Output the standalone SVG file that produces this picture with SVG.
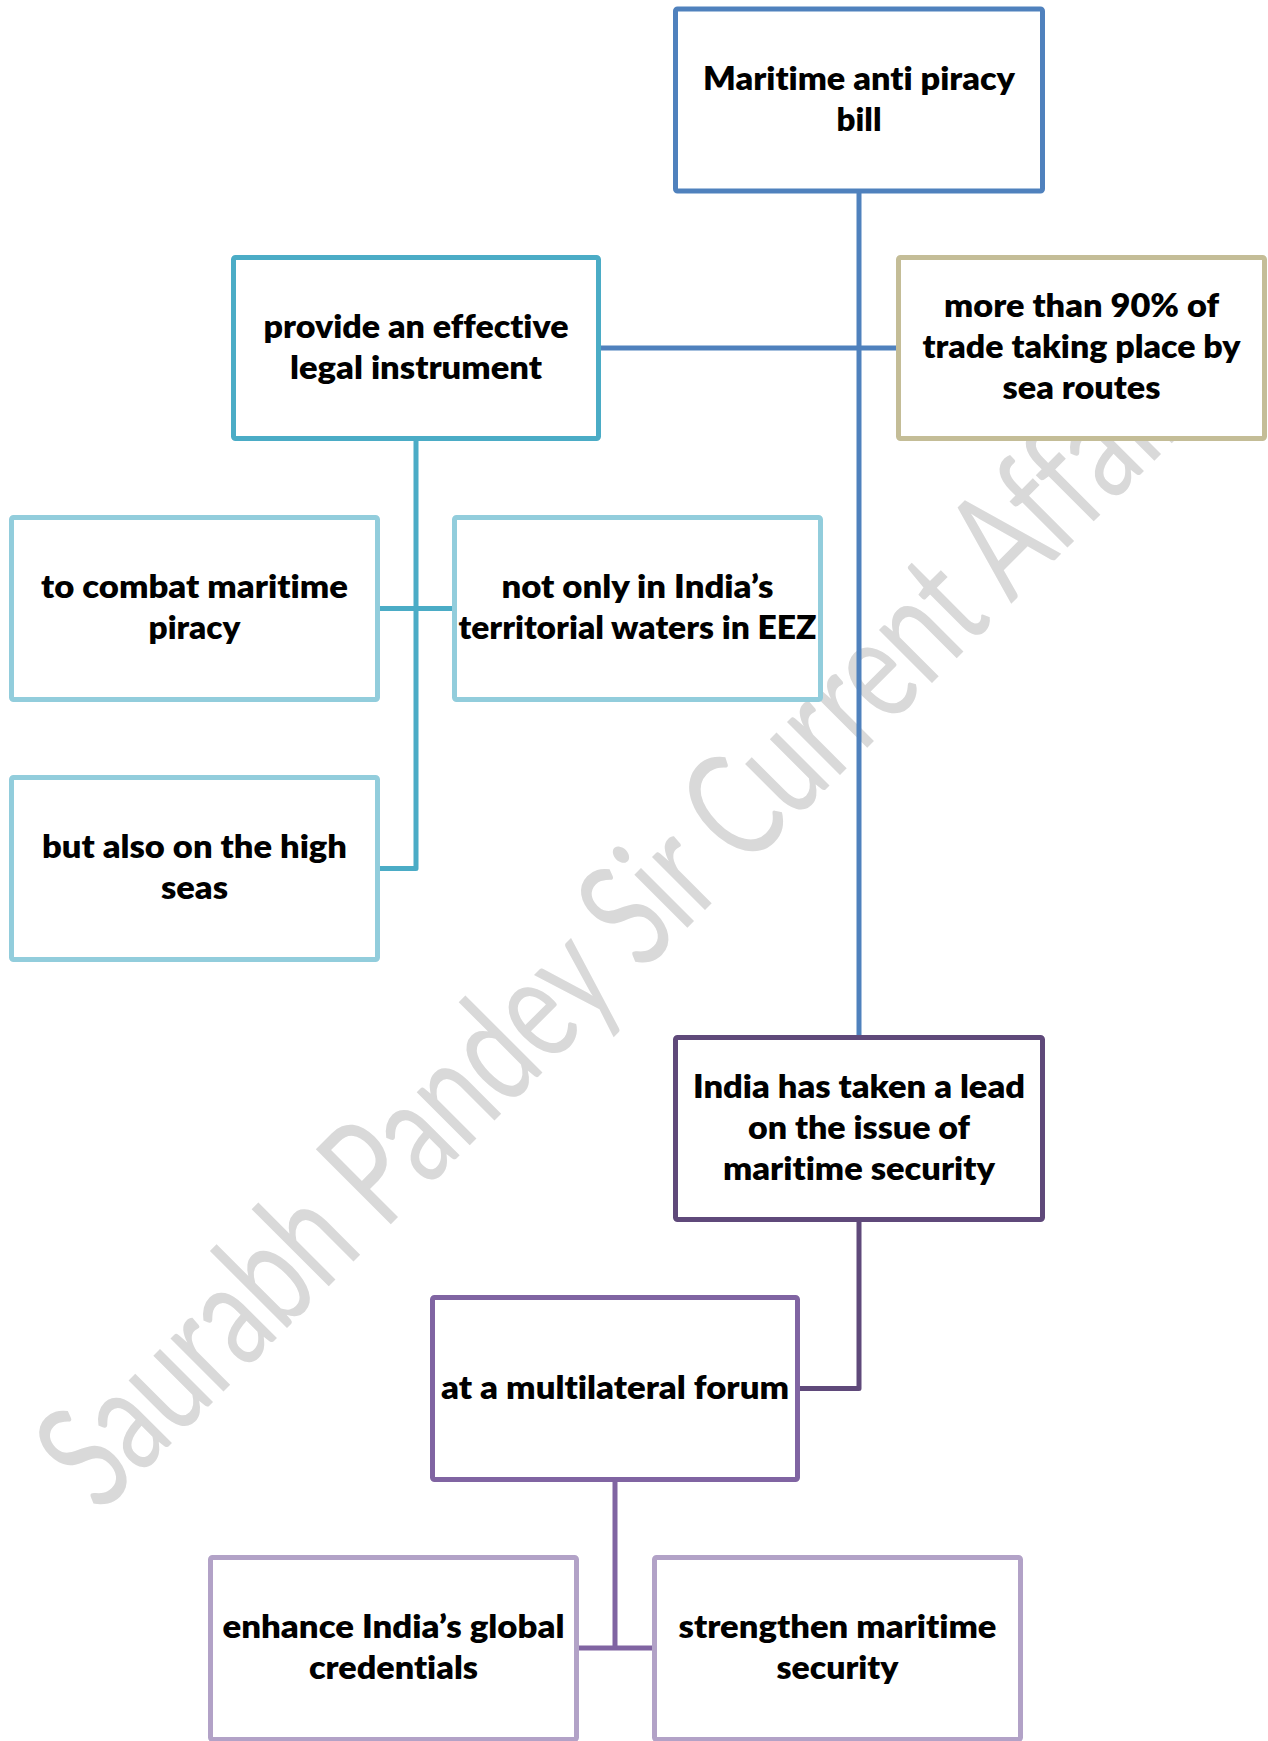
<svg xmlns="http://www.w3.org/2000/svg" width="1268" height="1741" viewBox="0 0 1268 1741">
<style>
.box{fill:#ffffff;stroke-width:5;stroke-linejoin:round}
.lbl{font-family:Lato,"Liberation Sans",sans-serif;font-weight:800;font-size:32px;fill:#000000;text-anchor:middle;font-variant-ligatures:none}
.wm{font-family:Lato,"Liberation Sans",sans-serif;font-weight:400;font-size:148px;fill:#D9D9D9;font-variant-ligatures:none}
.cn{fill:none;stroke-width:5;stroke-linejoin:round}
</style>
<rect x="0" y="0" width="1268" height="1741" fill="#ffffff"/>
<text class="wm" transform="translate(100,1515) rotate(-45)" x="0" y="0" textLength="1592" lengthAdjust="spacingAndGlyphs">Saurabh Pandey Sir Current Affairs</text>
<g id="connectors">
<path class="cn" stroke="#4F81BD" d="M859,191.5 V1037.5 M598.5,348 H898.5"/>
<path class="cn" stroke="#4BACC6" d="M416,438.5 V868.5 H377.5 M377.5,608.5 H454.5"/>
<path class="cn" stroke="#5F497A" d="M859,1219.5 V1388.5 H797.5"/>
<path class="cn" stroke="#8064A2" d="M615,1479.5 V1648 M576.5,1648 H654.5"/>
</g>
<g id="n-bill">
<rect class="box" stroke="#4F81BD" x="675.5" y="9" width="367" height="182" rx="2"/>
<text class="lbl" x="859" y="90" textLength="312" lengthAdjust="spacingAndGlyphs">Maritime anti piracy</text>
<text class="lbl" x="859" y="131" textLength="45" lengthAdjust="spacingAndGlyphs">bill</text>
</g>
<g id="n-provide">
<rect class="box" stroke="#4BACC6" x="233.5" y="257.5" width="365" height="181" rx="2"/>
<text class="lbl" x="416" y="337.5" textLength="305" lengthAdjust="spacingAndGlyphs">provide an effective</text>
<text class="lbl" x="416" y="378.5" textLength="252" lengthAdjust="spacingAndGlyphs">legal instrument</text>
</g>
<g id="n-trade">
<rect class="box" stroke="#C4BD97" x="898.5" y="257.5" width="366" height="181" rx="2"/>
<text class="lbl" x="1081.5" y="317" textLength="275" lengthAdjust="spacingAndGlyphs">more than 90% of</text>
<text class="lbl" x="1081.5" y="358" textLength="318" lengthAdjust="spacingAndGlyphs">trade taking place by</text>
<text class="lbl" x="1081.5" y="399" textLength="158" lengthAdjust="spacingAndGlyphs">sea routes</text>
</g>
<g id="n-combat">
<rect class="box" stroke="#92CDDC" x="11.5" y="517.5" width="366" height="182" rx="2"/>
<text class="lbl" x="194.5" y="598" textLength="307" lengthAdjust="spacingAndGlyphs">to combat maritime</text>
<text class="lbl" x="194.5" y="639" textLength="92" lengthAdjust="spacingAndGlyphs">piracy</text>
</g>
<g id="n-waters">
<rect class="box" stroke="#92CDDC" x="454.5" y="517.5" width="366" height="182" rx="2"/>
<text class="lbl" x="637.5" y="598" textLength="272" lengthAdjust="spacingAndGlyphs">not only in India’s</text>
<text class="lbl" x="637.5" y="639" textLength="358" lengthAdjust="spacingAndGlyphs">territorial waters in EEZ</text>
</g>
<g id="n-highseas">
<rect class="box" stroke="#92CDDC" x="11.5" y="777.5" width="366" height="182" rx="2"/>
<text class="lbl" x="194.5" y="858" textLength="305" lengthAdjust="spacingAndGlyphs">but also on the high</text>
<text class="lbl" x="194.5" y="899" textLength="67" lengthAdjust="spacingAndGlyphs">seas</text>
</g>
<g id="n-lead">
<rect class="box" stroke="#5F497A" x="675.5" y="1037.5" width="367" height="182" rx="2"/>
<text class="lbl" x="859" y="1097.5" textLength="332" lengthAdjust="spacingAndGlyphs">India has taken a lead</text>
<text class="lbl" x="859" y="1138.5" textLength="222" lengthAdjust="spacingAndGlyphs">on the issue of</text>
<text class="lbl" x="859" y="1179.5" textLength="272" lengthAdjust="spacingAndGlyphs">maritime security</text>
</g>
<g id="n-forum">
<rect class="box" stroke="#8064A2" x="432.5" y="1297.5" width="365" height="182" rx="2"/>
<text class="lbl" x="615" y="1398.5" textLength="348" lengthAdjust="spacingAndGlyphs">at a multilateral forum</text>
</g>
<g id="n-credentials">
<rect class="box" stroke="#B2A2C7" x="210.5" y="1557.5" width="366" height="182" rx="2"/>
<text class="lbl" x="393.5" y="1638" textLength="342" lengthAdjust="spacingAndGlyphs">enhance India’s global</text>
<text class="lbl" x="393.5" y="1679" textLength="169" lengthAdjust="spacingAndGlyphs">credentials</text>
</g>
<g id="n-security">
<rect class="box" stroke="#B2A2C7" x="654.5" y="1557.5" width="366" height="182" rx="2"/>
<text class="lbl" x="837.5" y="1638" textLength="318" lengthAdjust="spacingAndGlyphs">strengthen maritime</text>
<text class="lbl" x="837.5" y="1679" textLength="122" lengthAdjust="spacingAndGlyphs">security</text>
</g>
</svg>
